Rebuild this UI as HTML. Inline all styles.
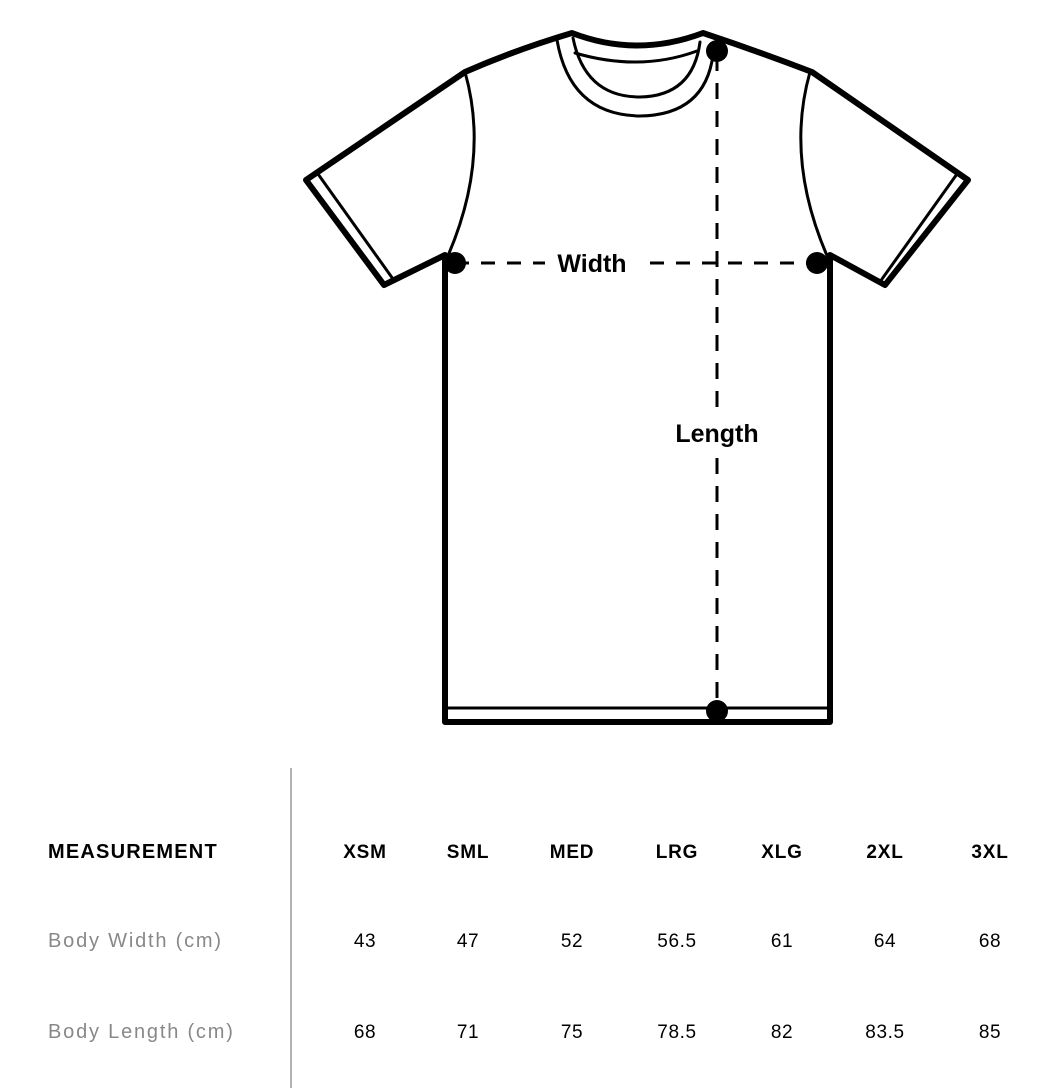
<!DOCTYPE html>
<html><head><meta charset="utf-8"><style>
html,body{margin:0;padding:0;background:#fff;}
svg{display:block;}
text{font-family:"Liberation Sans",Arial,sans-serif;}
</style></head><body>
<svg width="1064" height="1088" viewBox="0 0 1064 1088" xmlns="http://www.w3.org/2000/svg">
<g fill="none" stroke="#000" stroke-linejoin="round" stroke-linecap="round">
  <path d="M572,33 Q637,58 703,33 Q760,52 812,72 L968,180 L885,285 L830,255 L830,722 L445,722 L445,255 L384,285 L306,180 L465,72 Q515,50 572,33 Z" stroke-width="6"/>
  <path d="M318,174 L393,279" stroke-width="3"/>
  <path d="M957,174 L882,279" stroke-width="3"/>
  <path d="M465,72 Q490,160 447,258" stroke-width="3"/>
  <path d="M810,72 Q785,160 828,258" stroke-width="3"/>
  <path d="M447,708 L828,708" stroke-width="3"/>
  <path d="M557,40 Q570,115 640,116 Q705,115 713,55" stroke-width="3"/>
  <path d="M573,38 Q585,97 640,97 Q693,96 700,42" stroke-width="3"/>
  <path d="M575,53 Q640,72 697,51" stroke-width="3"/>
  <path d="M455,263 L545,263" stroke-width="3" stroke-dasharray="14,12" stroke-linecap="butt"/>
  <path d="M650,263 L817,263" stroke-width="3" stroke-dasharray="14,12" stroke-linecap="butt"/>
  <path d="M717,55 L717,412" stroke-width="3" stroke-dasharray="16,12" stroke-linecap="butt"/>
  <path d="M717,458 L717,705" stroke-width="3" stroke-dasharray="16,12" stroke-linecap="butt"/>
</g>
<g fill="#000">
  <circle cx="717" cy="51" r="11"/>
  <circle cx="455" cy="263" r="11"/>
  <circle cx="817" cy="263" r="11"/>
  <circle cx="717" cy="711" r="11"/>
</g>
<text x="592" y="272" font-size="25" font-weight="bold" text-anchor="middle">Width</text>
<text x="717" y="442" font-size="25" font-weight="bold" text-anchor="middle">Length</text>
<line x1="291" y1="768" x2="291" y2="1088" stroke="#999" stroke-width="1.5"/>
<g font-size="19" text-anchor="middle">
  <text x="48" y="858" text-anchor="start" font-weight="bold" font-size="20" letter-spacing="1.2">MEASUREMENT</text>
  <g font-weight="bold" letter-spacing="0.8">
    <text x="365" y="858">XSM</text><text x="468" y="858">SML</text><text x="572" y="858">MED</text>
    <text x="677" y="858">LRG</text><text x="782" y="858">XLG</text><text x="885" y="858">2XL</text><text x="990" y="858">3XL</text>
  </g>
  <text x="48" y="947" text-anchor="start" fill="#888" font-size="20" letter-spacing="1.8">Body Width (cm)</text>
  <text x="48" y="1038" text-anchor="start" fill="#888" font-size="20" letter-spacing="1.8">Body Length (cm)</text>
  <g letter-spacing="0.6">
  <text x="365" y="947">43</text><text x="468" y="947">47</text><text x="572" y="947">52</text>
  <text x="677" y="947">56.5</text><text x="782" y="947">61</text><text x="885" y="947">64</text><text x="990" y="947">68</text>
  <text x="365" y="1038">68</text><text x="468" y="1038">71</text><text x="572" y="1038">75</text>
  <text x="677" y="1038">78.5</text><text x="782" y="1038">82</text><text x="885" y="1038">83.5</text><text x="990" y="1038">85</text>
  </g>
</g>
</svg>
</body></html>
